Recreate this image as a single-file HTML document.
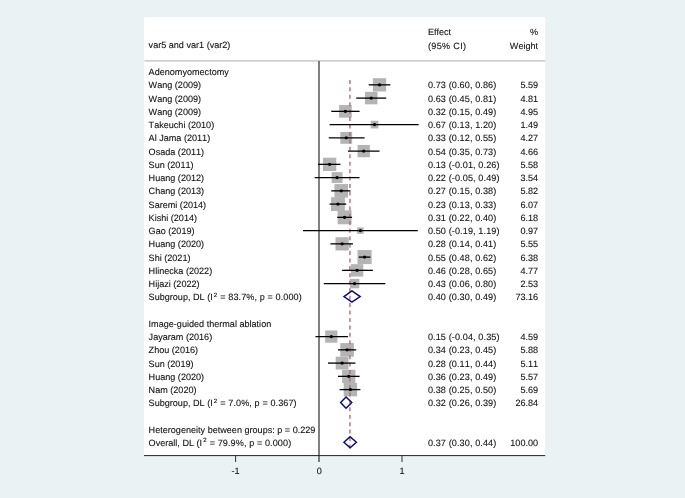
<!DOCTYPE html>
<html><head><meta charset="utf-8"><title>Forest plot</title>
<style>
html,body{margin:0;padding:0;background:#eaf2f3;}
svg{display:block}
text{font-kerning:none;text-rendering:geometricPrecision;font-family:"Liberation Sans",Arial,sans-serif;font-size:9.08px;fill:#111;stroke:#111;stroke-width:0.1px;}
</style></head><body>
<svg width="685" height="498" viewBox="0 0 685 498">
<rect x="0" y="0" width="685" height="498" fill="#eaf2f3"/>
<rect x="144" y="17.3" width="401.2" height="438.5" fill="#ffffff"/>
<line x1="144.5" y1="60.9" x2="545.2" y2="60.9" stroke="#bdbdbd" stroke-width="1.2"/>
<g fill="#b4b4b4">
<rect x="372.88" y="78.20" width="13.30" height="13.30"/>
<rect x="364.99" y="91.87" width="12.46" height="12.46"/>
<rect x="339.12" y="105.04" width="12.61" height="12.61"/>
<rect x="370.72" y="120.78" width="7.64" height="7.64"/>
<rect x="340.34" y="131.94" width="11.83" height="11.83"/>
<rect x="357.59" y="144.96" width="12.29" height="12.29"/>
<rect x="322.97" y="157.70" width="13.29" height="13.29"/>
<rect x="331.65" y="172.14" width="10.91" height="10.91"/>
<rect x="334.49" y="184.08" width="13.54" height="13.54"/>
<rect x="331.04" y="197.20" width="13.80" height="13.80"/>
<rect x="337.64" y="210.40" width="13.91" height="13.91"/>
<rect x="357.16" y="227.36" width="6.48" height="6.48"/>
<rect x="335.47" y="237.22" width="13.26" height="13.26"/>
<rect x="357.51" y="250.05" width="14.10" height="14.10"/>
<rect x="350.87" y="264.14" width="12.41" height="12.41"/>
<rect x="349.84" y="278.86" width="9.47" height="9.47"/>
<rect x="325.18" y="330.50" width="12.21" height="12.21"/>
<rect x="340.29" y="343.05" width="13.60" height="13.60"/>
<rect x="335.70" y="356.71" width="12.79" height="12.79"/>
<rect x="342.11" y="369.71" width="13.28" height="13.28"/>
<rect x="343.71" y="382.90" width="13.41" height="13.41"/>
</g>
<line x1="319.00" y1="61" x2="319.00" y2="462" stroke="#4a4a4a" stroke-width="1.4"/>
<line x1="349.92" y1="79.9" x2="349.92" y2="448.4" stroke="#b4606c" stroke-width="1.3" stroke-dasharray="4 3.44"/>
<g stroke="#000" stroke-width="1.3">
<line x1="368.72" y1="84.85" x2="390.35" y2="84.85"/>
<line x1="356.24" y1="98.10" x2="386.19" y2="98.10"/>
<line x1="331.28" y1="111.35" x2="359.57" y2="111.35"/>
<line x1="329.62" y1="124.60" x2="418.64" y2="124.60"/>
<line x1="328.78" y1="137.85" x2="364.56" y2="137.85"/>
<line x1="347.92" y1="151.10" x2="379.54" y2="151.10"/>
<line x1="317.97" y1="164.35" x2="340.43" y2="164.35"/>
<line x1="314.64" y1="177.60" x2="359.57" y2="177.60"/>
<line x1="331.28" y1="190.85" x2="350.42" y2="190.85"/>
<line x1="329.62" y1="204.10" x2="346.26" y2="204.10"/>
<line x1="337.10" y1="217.35" x2="352.08" y2="217.35"/>
<line x1="302.99" y1="230.60" x2="417.81" y2="230.60"/>
<line x1="330.45" y1="243.85" x2="352.91" y2="243.85"/>
<line x1="358.74" y1="257.10" x2="370.38" y2="257.10"/>
<line x1="342.10" y1="270.35" x2="372.88" y2="270.35"/>
<line x1="323.79" y1="283.60" x2="385.36" y2="283.60"/>
<line x1="315.47" y1="336.60" x2="347.92" y2="336.60"/>
<line x1="337.94" y1="349.85" x2="356.24" y2="349.85"/>
<line x1="327.95" y1="363.10" x2="355.41" y2="363.10"/>
<line x1="337.94" y1="376.35" x2="359.57" y2="376.35"/>
<line x1="339.60" y1="389.60" x2="360.40" y2="389.60"/>
</g>
<g fill="#000">
<circle cx="379.54" cy="84.85" r="1.7"/>
<circle cx="371.22" cy="98.10" r="1.7"/>
<circle cx="345.42" cy="111.35" r="1.7"/>
<circle cx="374.54" cy="124.60" r="1.7"/>
<circle cx="346.26" cy="137.85" r="1.7"/>
<circle cx="363.73" cy="151.10" r="1.7"/>
<circle cx="329.62" cy="164.35" r="1.7"/>
<circle cx="337.10" cy="177.60" r="1.7"/>
<circle cx="341.26" cy="190.85" r="1.7"/>
<circle cx="337.94" cy="204.10" r="1.7"/>
<circle cx="344.59" cy="217.35" r="1.7"/>
<circle cx="360.40" cy="230.60" r="1.7"/>
<circle cx="342.10" cy="243.85" r="1.7"/>
<circle cx="364.56" cy="257.10" r="1.7"/>
<circle cx="357.07" cy="270.35" r="1.7"/>
<circle cx="354.58" cy="283.60" r="1.7"/>
<circle cx="331.28" cy="336.60" r="1.7"/>
<circle cx="347.09" cy="349.85" r="1.7"/>
<circle cx="342.10" cy="363.10" r="1.7"/>
<circle cx="348.75" cy="376.35" r="1.7"/>
<circle cx="350.42" cy="389.60" r="1.7"/>
</g>
<g fill="none" stroke="#0a0a74" stroke-width="1.45" stroke-linejoin="miter">
<polygon points="343.93,296.55 351.91,290.95 360.15,296.55 351.91,302.15"/>
<polygon points="340.60,402.55 346.01,396.95 351.83,402.55 346.01,408.15"/>
<polygon points="343.93,442.30 350.08,436.70 356.41,442.30 350.08,447.90"/>
</g>
<line x1="144" y1="455.6" x2="545.2" y2="455.6" stroke="#222" stroke-width="1"/>
<g stroke="#333" stroke-width="1">
<line x1="235.60" y1="455.6" x2="235.60" y2="462"/>
<line x1="402.00" y1="455.6" x2="402.00" y2="462"/>
</g>
<g text-anchor="middle">
<text x="235.60" y="474.3">-1</text>
<text x="319.20" y="474.3">0</text>
<text x="402.00" y="474.3">1</text>
</g>
<text x="148.6" y="48.2">var5 and var1 (var2)</text>
<text x="427.9" y="35.4">Effect</text>
<text x="427.9" y="48.7" textLength="38.2">(95% CI)</text>
<text x="538.1" y="35.2" text-anchor="end">%</text>
<text x="538.1" y="48.5" text-anchor="end">Weight</text>
<text x="148.6" y="75.00">Adenomyomectomy</text>
<text x="148.6" y="88.25">Wang (2009)</text>
<text x="427.9" y="88.25" textLength="68.4">0.73 (0.60, 0.86)</text>
<text x="538.1" y="88.25" text-anchor="end">5.59</text>
<text x="148.6" y="101.50">Wang (2009)</text>
<text x="427.9" y="101.50" textLength="68.4">0.63 (0.45, 0.81)</text>
<text x="538.1" y="101.50" text-anchor="end">4.81</text>
<text x="148.6" y="114.75">Wang (2009)</text>
<text x="427.9" y="114.75" textLength="68.4">0.32 (0.15, 0.49)</text>
<text x="538.1" y="114.75" text-anchor="end">4.95</text>
<text x="148.6" y="128.00">Takeuchi (2010)</text>
<text x="427.9" y="128.00" textLength="68.4">0.67 (0.13, 1.20)</text>
<text x="538.1" y="128.00" text-anchor="end">1.49</text>
<text x="148.6" y="141.25">Al Jama (2011)</text>
<text x="427.9" y="141.25" textLength="68.4">0.33 (0.12, 0.55)</text>
<text x="538.1" y="141.25" text-anchor="end">4.27</text>
<text x="148.6" y="154.50">Osada (2011)</text>
<text x="427.9" y="154.50" textLength="68.4">0.54 (0.35, 0.73)</text>
<text x="538.1" y="154.50" text-anchor="end">4.66</text>
<text x="148.6" y="167.75">Sun (2011)</text>
<text x="427.9" y="167.75" textLength="71.6">0.13 (-0.01, 0.26)</text>
<text x="538.1" y="167.75" text-anchor="end">5.58</text>
<text x="148.6" y="181.00">Huang (2012)</text>
<text x="427.9" y="181.00" textLength="71.6">0.22 (-0.05, 0.49)</text>
<text x="538.1" y="181.00" text-anchor="end">3.54</text>
<text x="148.6" y="194.25">Chang (2013)</text>
<text x="427.9" y="194.25" textLength="68.4">0.27 (0.15, 0.38)</text>
<text x="538.1" y="194.25" text-anchor="end">5.82</text>
<text x="148.6" y="207.50">Saremi (2014)</text>
<text x="427.9" y="207.50" textLength="68.4">0.23 (0.13, 0.33)</text>
<text x="538.1" y="207.50" text-anchor="end">6.07</text>
<text x="148.6" y="220.75">Kishi (2014)</text>
<text x="427.9" y="220.75" textLength="68.4">0.31 (0.22, 0.40)</text>
<text x="538.1" y="220.75" text-anchor="end">6.18</text>
<text x="148.6" y="234.00">Gao (2019)</text>
<text x="427.9" y="234.00" textLength="71.6">0.50 (-0.19, 1.19)</text>
<text x="538.1" y="234.00" text-anchor="end">0.97</text>
<text x="148.6" y="247.25">Huang (2020)</text>
<text x="427.9" y="247.25" textLength="68.4">0.28 (0.14, 0.41)</text>
<text x="538.1" y="247.25" text-anchor="end">5.55</text>
<text x="148.6" y="260.50">Shi (2021)</text>
<text x="427.9" y="260.50" textLength="68.4">0.55 (0.48, 0.62)</text>
<text x="538.1" y="260.50" text-anchor="end">6.38</text>
<text x="148.6" y="273.75">Hlinecka (2022)</text>
<text x="427.9" y="273.75" textLength="68.4">0.46 (0.28, 0.65)</text>
<text x="538.1" y="273.75" text-anchor="end">4.77</text>
<text x="148.6" y="287.00">Hijazi (2022)</text>
<text x="427.9" y="287.00" textLength="68.4">0.43 (0.06, 0.80)</text>
<text x="538.1" y="287.00" text-anchor="end">2.53</text>
<text x="148.6" y="300.25">Subgroup, DL (I<tspan dy="-3.6" dx="1.1" font-size="6">2</tspan><tspan dy="3.6" dx="0.5" letter-spacing="0.1"> = 83.7%, p = 0.000)</tspan></text>
<text x="427.9" y="300.25" textLength="68.4">0.40 (0.30, 0.49)</text>
<text x="538.1" y="300.25" text-anchor="end">73.16</text>
<text x="148.6" y="326.75">Image-guided thermal ablation</text>
<text x="148.6" y="340.00">Jayaram (2016)</text>
<text x="427.9" y="340.00" textLength="71.6">0.15 (-0.04, 0.35)</text>
<text x="538.1" y="340.00" text-anchor="end">4.59</text>
<text x="148.6" y="353.25">Zhou (2016)</text>
<text x="427.9" y="353.25" textLength="68.4">0.34 (0.23, 0.45)</text>
<text x="538.1" y="353.25" text-anchor="end">5.88</text>
<text x="148.6" y="366.50">Sun (2019)</text>
<text x="427.9" y="366.50" textLength="68.4">0.28 (0.11, 0.44)</text>
<text x="538.1" y="366.50" text-anchor="end">5.11</text>
<text x="148.6" y="379.75">Huang (2020)</text>
<text x="427.9" y="379.75" textLength="68.4">0.36 (0.23, 0.49)</text>
<text x="538.1" y="379.75" text-anchor="end">5.57</text>
<text x="148.6" y="393.00">Nam (2020)</text>
<text x="427.9" y="393.00" textLength="68.4">0.38 (0.25, 0.50)</text>
<text x="538.1" y="393.00" text-anchor="end">5.69</text>
<text x="148.6" y="406.25">Subgroup, DL (I<tspan dy="-3.6" dx="1.1" font-size="6">2</tspan><tspan dy="3.6" dx="0.5" letter-spacing="0.1"> = 7.0%, p = 0.367)</tspan></text>
<text x="427.9" y="406.25" textLength="68.4">0.32 (0.26, 0.39)</text>
<text x="538.1" y="406.25" text-anchor="end">26.84</text>
<text x="148.6" y="432.75">Heterogeneity between groups: p = 0.229</text>
<text x="148.6" y="446.00">Overall, DL (I<tspan dy="-3.6" dx="1.1" font-size="6">2</tspan><tspan dy="3.6" dx="0.5" letter-spacing="0.1"> = 79.9%, p = 0.000)</tspan></text>
<text x="427.9" y="446.00" textLength="68.4">0.37 (0.30, 0.44)</text>
<text x="538.1" y="446.00" text-anchor="end">100.00</text>
</svg>
</body></html>
